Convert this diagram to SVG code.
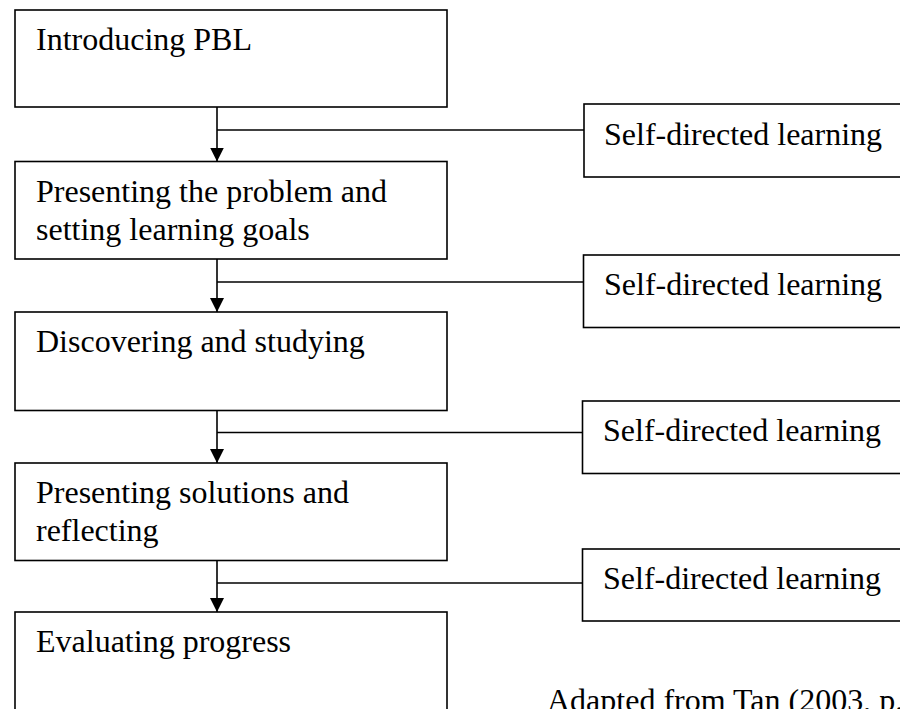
<svg xmlns="http://www.w3.org/2000/svg" width="900" height="709" viewBox="0 0 900 709">
  <style>
    .box { fill: #ffffff; stroke: #000000; stroke-width: 1.6; }
    .label { font-family: "Liberation Serif", "Times New Roman", serif; font-size: 32px; fill: #000000; }
    .link { fill: none; stroke: #000000; stroke-width: 1.6; }
  </style>
  <defs>
    <marker id="arrow" markerWidth="14" markerHeight="14" refX="14" refY="7" orient="auto" markerUnits="userSpaceOnUse">
      <path d="M0,0 L14,7 L0,14 Z" fill="#000000"/>
    </marker>
  </defs>
  <rect width="900" height="709" fill="#ffffff"/>

  <!-- main process steps -->
  <g id="step-introducing">
    <rect class="box" x="15" y="10" width="432" height="97"/>
    <text class="label" x="36" y="50">Introducing PBL</text>
  </g>
  <g id="step-presenting-problem">
    <rect class="box" x="15" y="161.5" width="432" height="97.5"/>
    <text class="label" x="36" y="201.5">Presenting the problem and</text>
    <text class="label" x="36" y="239.5">setting learning goals</text>
  </g>
  <g id="step-discovering">
    <rect class="box" x="15" y="312" width="432" height="98.5"/>
    <text class="label" x="36" y="352">Discovering and studying</text>
  </g>
  <g id="step-presenting-solutions">
    <rect class="box" x="15" y="463" width="432" height="97.5"/>
    <text class="label" x="36" y="503">Presenting solutions and</text>
    <text class="label" x="36" y="541">reflecting</text>
  </g>
  <g id="step-evaluating">
    <rect class="box" x="15" y="612" width="432" height="120"/>
    <text class="label" x="36" y="652">Evaluating progress</text>
  </g>

  <!-- self-directed learning side boxes -->
  <g id="sdl-1">
    <rect class="box" x="584" y="104" width="340" height="73"/>
    <text class="label" x="604" y="145">Self-directed learning</text>
  </g>
  <g id="sdl-2">
    <rect class="box" x="583.5" y="255" width="340" height="72.5"/>
    <text class="label" x="604" y="294.5">Self-directed learning</text>
  </g>
  <g id="sdl-3">
    <rect class="box" x="582.5" y="401" width="340" height="72.5"/>
    <text class="label" x="603" y="441">Self-directed learning</text>
  </g>
  <g id="sdl-4">
    <rect class="box" x="582.5" y="549" width="340" height="72"/>
    <text class="label" x="603" y="588.5">Self-directed learning</text>
  </g>

  <!-- connectors -->
  <g id="connectors">
    <line class="link" x1="217" y1="107" x2="217" y2="161.5" marker-end="url(#arrow)"/>
    <line class="link" x1="217" y1="259" x2="217" y2="312" marker-end="url(#arrow)"/>
    <line class="link" x1="217" y1="410.5" x2="217" y2="463" marker-end="url(#arrow)"/>
    <line class="link" x1="217" y1="560.5" x2="217" y2="612" marker-end="url(#arrow)"/>
    <line class="link" x1="217" y1="130" x2="584" y2="130"/>
    <line class="link" x1="217" y1="282" x2="583.5" y2="282"/>
    <line class="link" x1="217" y1="432.5" x2="582.5" y2="432.5"/>
    <line class="link" x1="217" y1="583" x2="582.5" y2="583"/>
  </g>

  <text class="label" x="547" y="711">Adapted from Tan (2003, p.</text>
</svg>
